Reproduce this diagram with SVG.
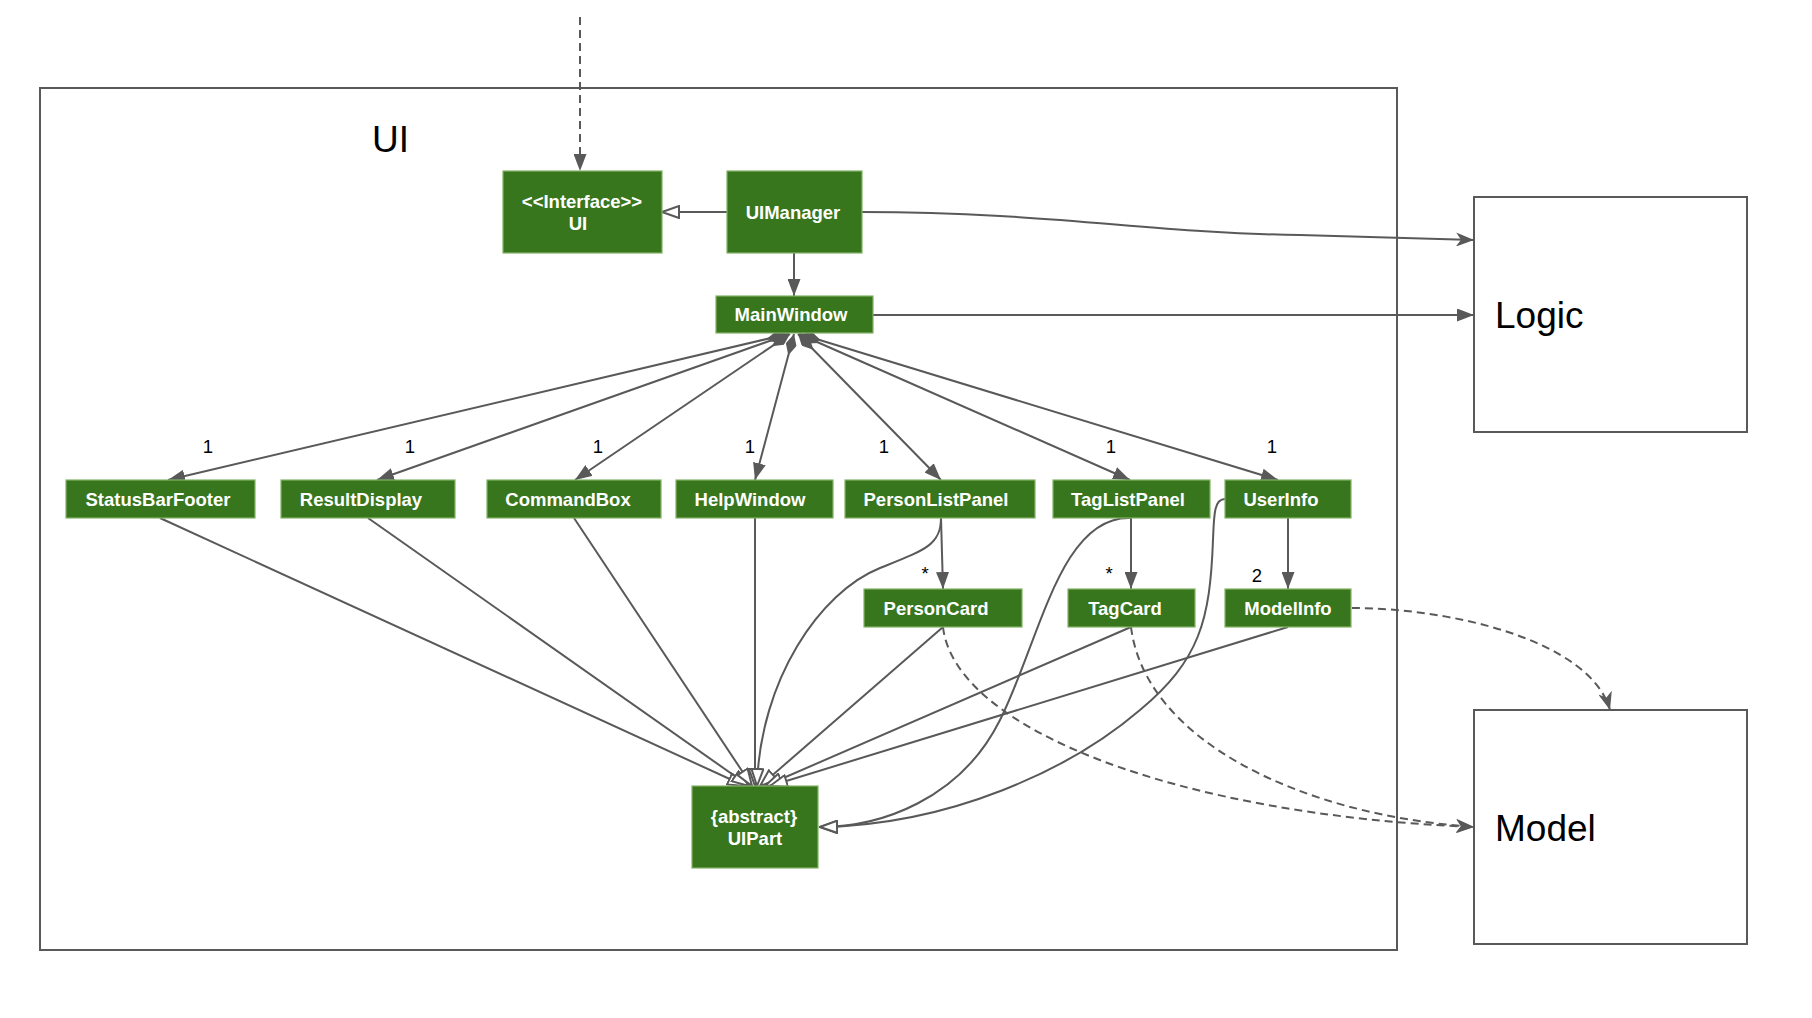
<svg xmlns="http://www.w3.org/2000/svg" width="1812" height="1018" viewBox="0 0 1812 1018">
<style>
.box{fill:#38761D;stroke:#82B366;stroke-width:1.2}
.bt{font-family:"Liberation Sans",Arial,sans-serif;font-size:18.5px;font-weight:bold;fill:#fff;text-anchor:middle}
.ln{fill:none;stroke:#595959;stroke-width:2}
.dash{fill:none;stroke:#595959;stroke-width:2;stroke-dasharray:8 5}
.lbl{font-family:"Liberation Sans",Arial,sans-serif;font-size:18.5px;fill:#000;text-anchor:middle}
.big{font-family:"Liberation Sans",Arial,sans-serif;font-size:37px;fill:#000}
.frame{fill:#fff;stroke:#595959;stroke-width:2}
</style>
<defs>
<marker id="block" viewBox="0 0 17 13" refX="17" refY="6.5" markerWidth="17" markerHeight="13" orient="auto" markerUnits="userSpaceOnUse"><path d="M0,0 L17,6.5 L0,13 z" fill="#595959"/></marker>
<marker id="hollow" viewBox="0 0 19 14" refX="18" refY="7" markerWidth="19" markerHeight="14" orient="auto" markerUnits="userSpaceOnUse"><path d="M1,1 L18,7 L1,13 z" fill="#fff" stroke="#595959" stroke-width="2"/></marker>
<marker id="diamond" viewBox="0 0 22 11" refX="0" refY="5.5" markerWidth="22" markerHeight="11" orient="auto" markerUnits="userSpaceOnUse"><path d="M0,5.5 L11,0 L22,5.5 L11,11 z" fill="#595959"/></marker>
<marker id="open" viewBox="0 0 18 14" refX="18" refY="7" markerWidth="18" markerHeight="14" orient="auto" markerUnits="userSpaceOnUse"><path d="M0,0 L18,7 L0,14 L5,7 z" fill="#595959"/></marker>
</defs>
<rect width="1812" height="1018" fill="#fff"/>

<g id="ui-container">
<rect class="frame" x="40" y="88" width="1357" height="862"/>
<text class="big" x="372" y="152">UI</text>
</g>
<g id="logic">
<rect class="frame" x="1474" y="197" width="273" height="235"/>
<text class="big" x="1495" y="328">Logic</text>
</g>
<g id="model">
<rect class="frame" x="1474" y="710" width="273" height="234"/>
<text class="big" x="1495" y="841">Model</text>
</g>

<g id="connectors">
<path class="dash" d="M580,17 L580,171" marker-end="url(#block)"/>
<path class="ln" d="M727,212 L662,212" marker-end="url(#hollow)"/>
<path class="ln" d="M794,253 L794,296" marker-end="url(#block)"/>
<path class="ln" d="M862,212 C1050,212 1150,233 1300,235 L1474,240" marker-end="url(#open)"/>
<path class="ln" d="M873,315 L1474,315" marker-end="url(#block)"/>

<path class="ln" d="M788,334 L168,480" marker-start="url(#diamond)" marker-end="url(#block)"/>
<path class="ln" d="M789,334 L377,480" marker-start="url(#diamond)" marker-end="url(#block)"/>
<path class="ln" d="M790,334 L575,480" marker-start="url(#diamond)" marker-end="url(#block)"/>
<path class="ln" d="M794,334 L755,480" marker-start="url(#diamond)" marker-end="url(#block)"/>
<path class="ln" d="M798,334 L941,480" marker-start="url(#diamond)" marker-end="url(#block)"/>
<path class="ln" d="M799,334 L1130,480" marker-start="url(#diamond)" marker-end="url(#block)"/>
<path class="ln" d="M800,334 L1278,480" marker-start="url(#diamond)" marker-end="url(#block)"/>

<path class="ln" d="M941,518 L943,589" marker-end="url(#block)"/>
<path class="ln" d="M1131,518 L1131,589" marker-end="url(#block)"/>
<path class="ln" d="M1288,518 L1288,589" marker-end="url(#block)"/>

<path class="ln" d="M160,518 L745,786" marker-end="url(#hollow)"/>
<path class="ln" d="M368,518 L749,786" marker-end="url(#hollow)"/>
<path class="ln" d="M574,518 L752,786" marker-end="url(#hollow)"/>
<path class="ln" d="M755,518 L755,786" marker-end="url(#hollow)"/>
<path class="ln" d="M941,518 C941,545 925,550 880,568 C820,592 760,680 757,786" marker-end="url(#hollow)"/>
<path class="ln" d="M943,627 L760,786" marker-end="url(#hollow)"/>
<path class="ln" d="M1131,627 L765,786" marker-end="url(#hollow)"/>
<path class="ln" d="M1288,627 L770,786" marker-end="url(#hollow)"/>

<path class="ln" d="M1131,518 C1060,515 1040,640 1000,720 C960,800 880,827 820,827" marker-end="url(#hollow)"/>
<path class="ln" d="M1225,499 C1214,499 1214,515 1213,540 C1210,620 1200,660 1140,710 C1070,770 950,825 820,827" marker-end="url(#hollow)"/>

<path class="dash" d="M1352,608 C1450,608 1590,640 1610,710" marker-end="url(#open)"/>
<path class="dash" d="M943,627 C955,730 1180,815 1474,827" marker-end="url(#open)"/>
<path class="dash" d="M1131,627 C1145,740 1300,815 1474,827" marker-end="url(#open)"/>
</g>

<g id="labels">
<text class="lbl" x="208" y="453">1</text>
<text class="lbl" x="410" y="453">1</text>
<text class="lbl" x="598" y="453">1</text>
<text class="lbl" x="750" y="453">1</text>
<text class="lbl" x="884" y="453">1</text>
<text class="lbl" x="1111" y="453">1</text>
<text class="lbl" x="1272" y="453">1</text>
<text class="lbl" x="925" y="580">*</text>
<text class="lbl" x="1109" y="580">*</text>
<text class="lbl" x="1257" y="582">2</text>
</g>

<g id="node-ui-interface"><rect class="box" x="503" y="171" width="159" height="82"/><text class="bt" x="582" y="208">&lt;&lt;Interface&gt;&gt;</text><text class="bt" x="578" y="230">UI</text></g>
<g id="node-uimanager"><rect class="box" x="727" y="171" width="135" height="82"/><text class="bt" x="793" y="219">UIManager</text></g>
<g id="node-mainwindow"><rect class="box" x="716" y="296" width="157" height="37"/><text class="bt" x="791" y="321">MainWindow</text></g>
<g id="node-statusbarfooter"><rect class="box" x="66" y="480" width="189" height="38"/><text class="bt" x="158" y="506">StatusBarFooter</text></g>
<g id="node-resultdisplay"><rect class="box" x="281" y="480" width="174" height="38"/><text class="bt" x="361" y="506">ResultDisplay</text></g>
<g id="node-commandbox"><rect class="box" x="487" y="480" width="174" height="38"/><text class="bt" x="568" y="506">CommandBox</text></g>
<g id="node-helpwindow"><rect class="box" x="676" y="480" width="157" height="38"/><text class="bt" x="750" y="506">HelpWindow</text></g>
<g id="node-personlistpanel"><rect class="box" x="845" y="480" width="190" height="38"/><text class="bt" x="936" y="506">PersonListPanel</text></g>
<g id="node-taglistpanel"><rect class="box" x="1053" y="480" width="157" height="38"/><text class="bt" x="1128" y="506">TagListPanel</text></g>
<g id="node-userinfo"><rect class="box" x="1225" y="480" width="126" height="38"/><text class="bt" x="1281" y="506">UserInfo</text></g>
<g id="node-personcard"><rect class="box" x="864" y="589" width="158" height="38"/><text class="bt" x="936" y="615">PersonCard</text></g>
<g id="node-tagcard"><rect class="box" x="1068" y="589" width="127" height="38"/><text class="bt" x="1125" y="615">TagCard</text></g>
<g id="node-modelinfo"><rect class="box" x="1225" y="589" width="126" height="38"/><text class="bt" x="1288" y="615">ModelInfo</text></g>
<g id="node-uipart"><rect class="box" x="692" y="786" width="126" height="82"/><text class="bt" x="754" y="823">{abstract}</text><text class="bt" x="755" y="845">UIPart</text></g>
</svg>
